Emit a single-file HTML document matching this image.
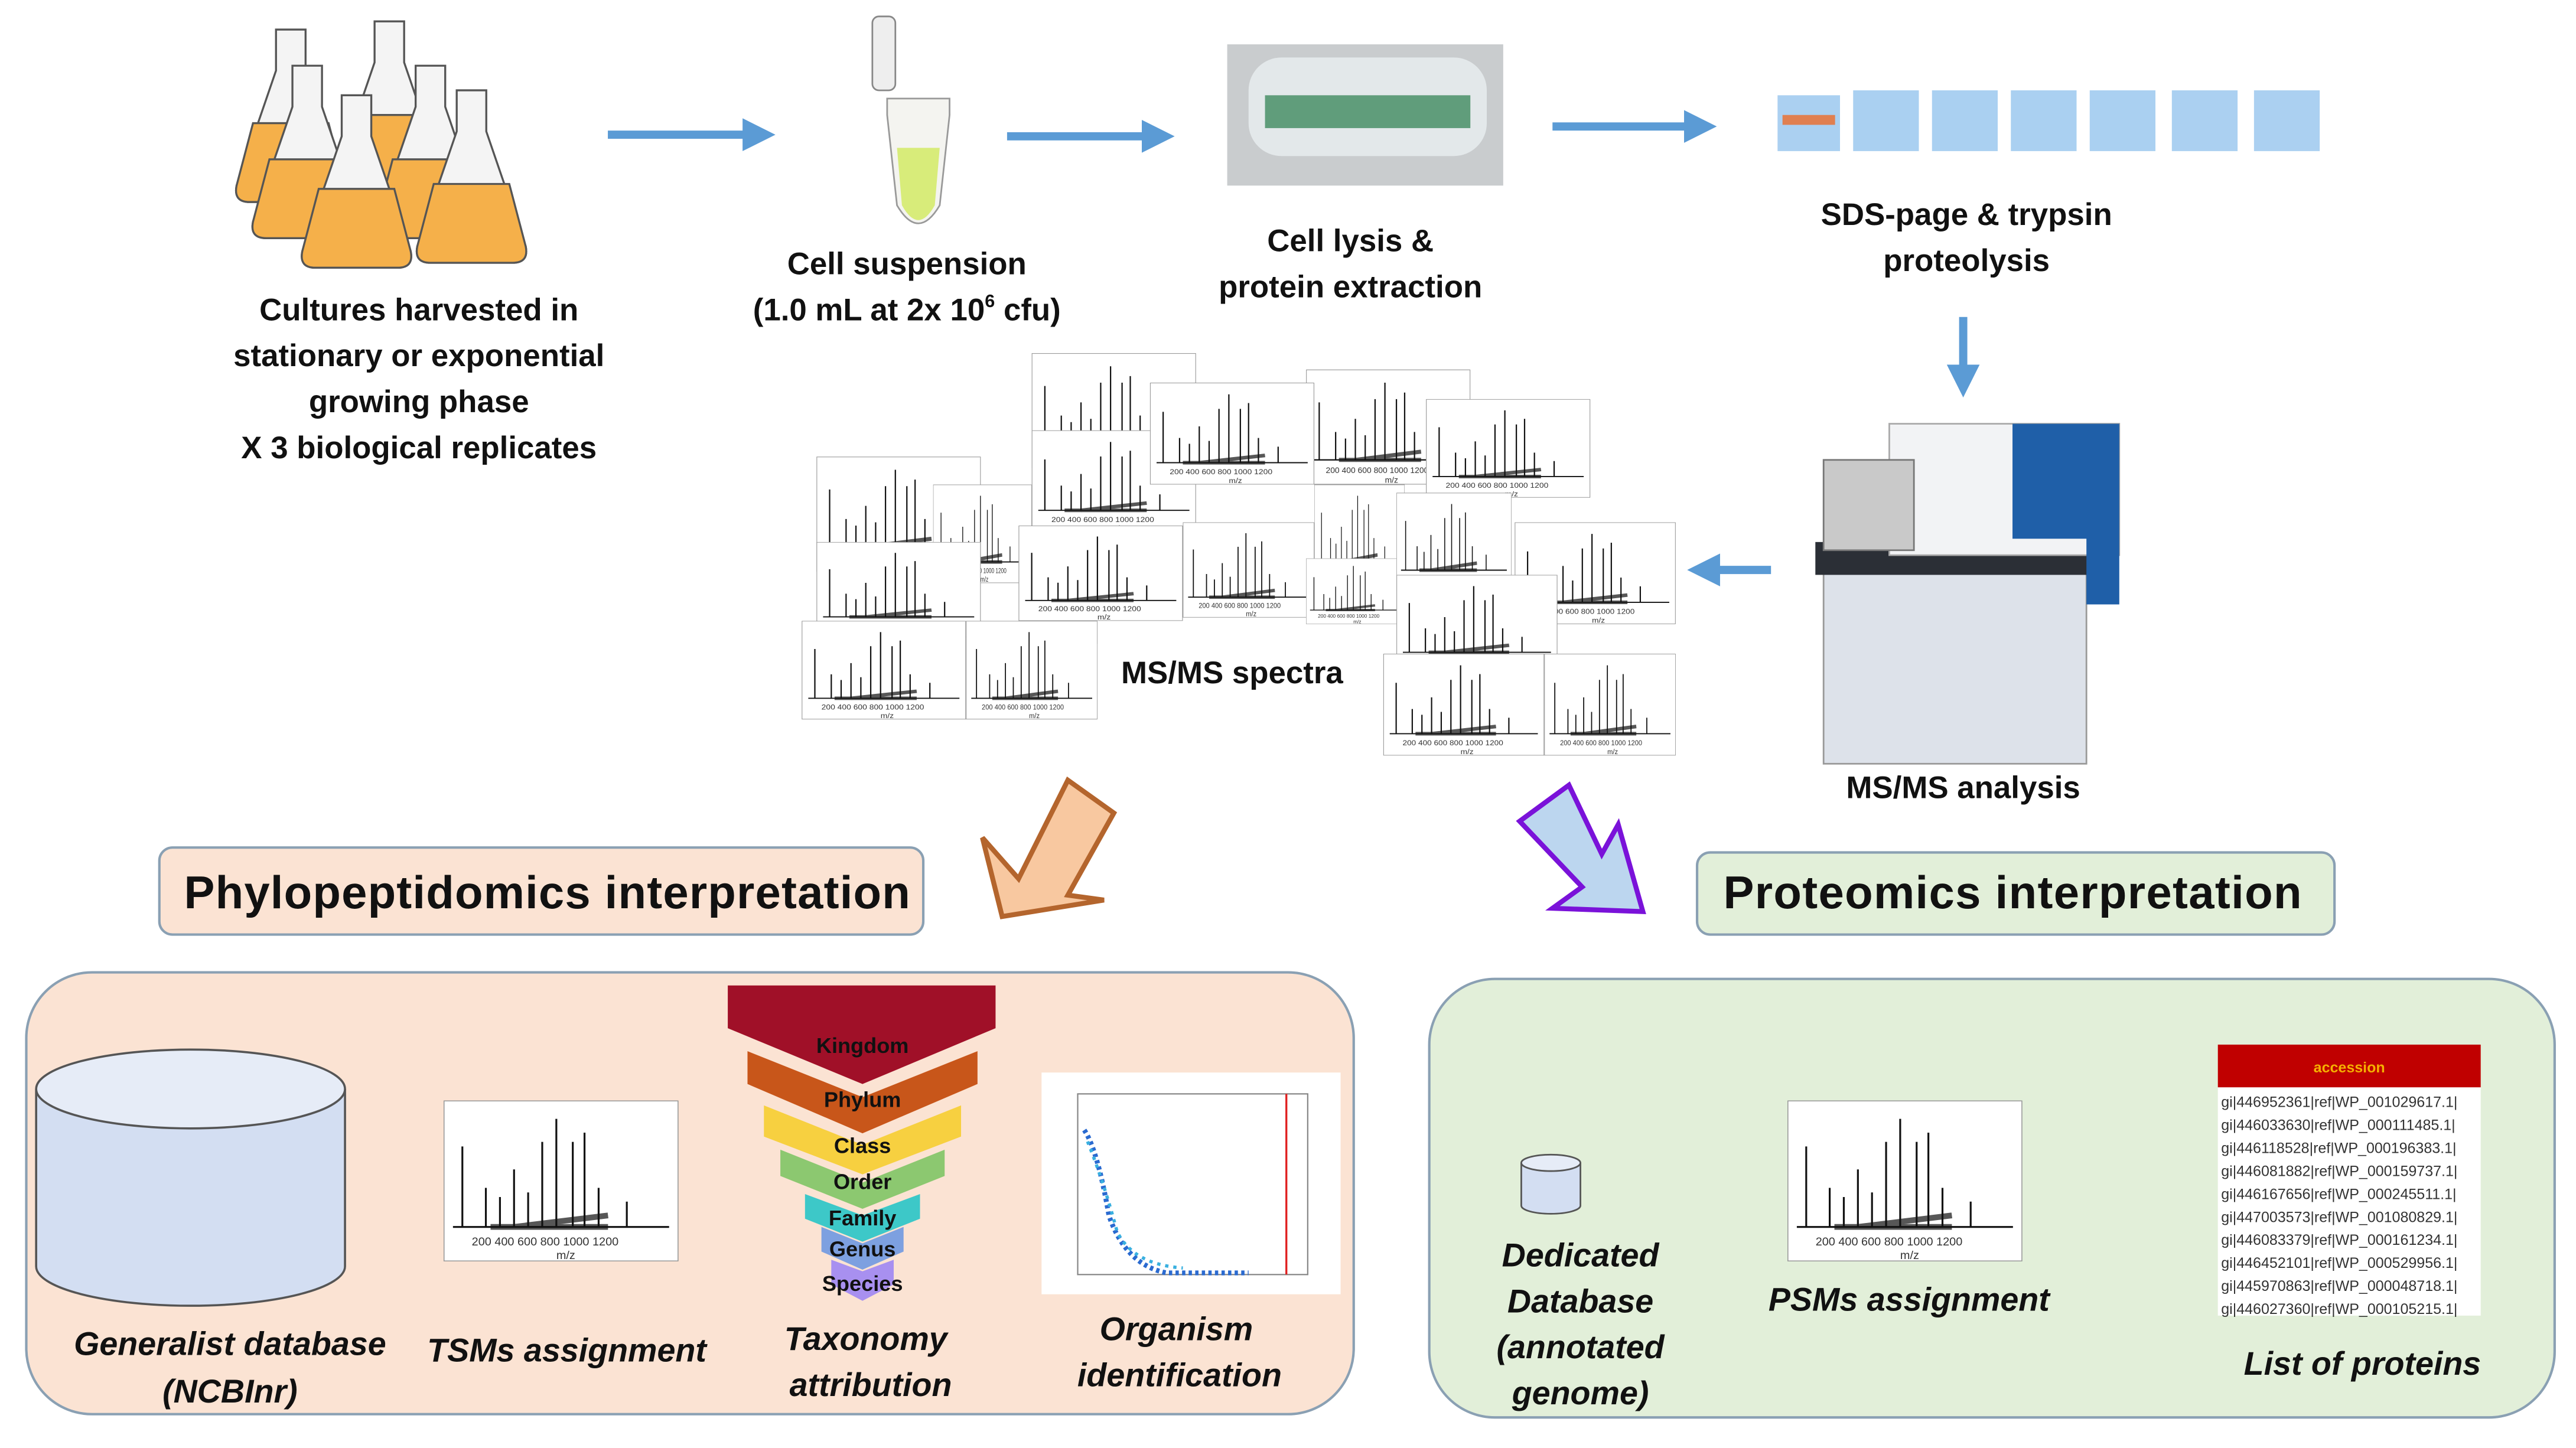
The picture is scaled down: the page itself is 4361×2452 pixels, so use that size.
<!DOCTYPE html>
<html><head><meta charset="utf-8"><style>
html,body{margin:0;padding:0;background:#fff;}
svg{display:block;}
text{font-family:"Liberation Sans",sans-serif;}
.b{font-weight:bold;font-size:19px;fill:#111;}
.i{font-weight:bold;font-style:italic;font-size:20px;fill:#111;}
</style></head><body>
<svg width="4361" height="2452" viewBox="0 0 1568 881.6" preserveAspectRatio="none" xmlns="http://www.w3.org/2000/svg">
<defs>
<marker id="ah" markerWidth="4" markerHeight="4" refX="2" refY="2" orient="auto" markerUnits="strokeWidth"><path d="M0,0 L4,2 L0,4 z" fill="#5b9bd5"/></marker>
<symbol id="sp" viewBox="0 0 100 70" preserveAspectRatio="none">
<rect x="0" y="0" width="100" height="70" fill="#fff" stroke="#999" stroke-width="0.8"/>
<g stroke="#111" stroke-width="0.8">
<line x1="8" y1="55" x2="8" y2="20"/><line x1="18" y1="55" x2="18" y2="38"/><line x1="24" y1="55" x2="24" y2="42"/><line x1="30" y1="55" x2="30" y2="30"/><line x1="36" y1="55" x2="36" y2="40"/><line x1="42" y1="55" x2="42" y2="18"/><line x1="48" y1="55" x2="48" y2="8"/><line x1="55" y1="55" x2="55" y2="18"/><line x1="60" y1="55" x2="60" y2="14"/><line x1="66" y1="55" x2="66" y2="38"/><line x1="78" y1="55" x2="78" y2="44"/>
<line x1="4" y1="55" x2="96" y2="55"/>
</g>
<g stroke="#111" stroke-width="2.5" opacity="0.7"><line x1="20" y1="55" x2="70" y2="55"/><line x1="30" y1="55" x2="70" y2="50"/></g>
<g fill="#333" font-size="5"><text x="12" y="63">200 400 600 800 1000 1200</text><text x="48" y="69">m/z</text></g>
</symbol>
</defs>

<!-- flasks -->
<g stroke="#555" stroke-width="1.2">
<g id="fl"><path d="M168,18 h18 v25 l24,70 q2,10 -8,10 h-50 q-10,0 -8,-10 l24,-70z" fill="#f4f4f4"/><path d="M154,75 h46 l10,38 q2,10 -8,10 h-50 q-10,0 -8,-10z" fill="#f5b04a"/></g>
<g transform="translate(60,-5)"><path d="M168,18 h18 v25 l24,70 q2,10 -8,10 h-50 q-10,0 -8,-10 l24,-70z" fill="#f4f4f4"/><path d="M154,75 h46 l10,38 q2,10 -8,10 h-50 q-10,0 -8,-10z" fill="#f5b04a"/></g>
<g transform="translate(10,22)"><path d="M168,18 h18 v25 l24,70 q2,10 -8,10 h-50 q-10,0 -8,-10 l24,-70z" fill="#f4f4f4"/><path d="M154,75 h46 l10,38 q2,10 -8,10 h-50 q-10,0 -8,-10z" fill="#f5b04a"/></g>
<g transform="translate(85,22)"><path d="M168,18 h18 v25 l24,70 q2,10 -8,10 h-50 q-10,0 -8,-10 l24,-70z" fill="#f4f4f4"/><path d="M154,75 h46 l10,38 q2,10 -8,10 h-50 q-10,0 -8,-10z" fill="#f5b04a"/></g>
<g transform="translate(40,40)"><path d="M168,18 h18 v25 l24,70 q2,10 -8,10 h-50 q-10,0 -8,-10 l24,-70z" fill="#f4f4f4"/><path d="M154,75 h46 l10,38 q2,10 -8,10 h-50 q-10,0 -8,-10z" fill="#f5b04a"/></g>
<g transform="translate(110,37)"><path d="M168,18 h18 v25 l24,70 q2,10 -8,10 h-50 q-10,0 -8,-10 l24,-70z" fill="#f4f4f4"/><path d="M154,75 h46 l10,38 q2,10 -8,10 h-50 q-10,0 -8,-10z" fill="#f5b04a"/></g>
</g>
<text class="b" text-anchor="middle"><tspan x="255" y="195">Cultures harvested in</tspan><tspan x="255" y="223">stationary or exponential</tspan><tspan x="255" y="251">growing phase</tspan><tspan x="255" y="279">X 3 biological replicates</tspan></text>

<!-- arrows top -->
<g stroke="#5b9bd5" stroke-width="5" fill="none" marker-end="url(#ah)">
<line x1="370" y1="82" x2="462" y2="82"/><line x1="613" y1="83" x2="705" y2="83"/><line x1="945" y1="77" x2="1035" y2="77"/>
<line x1="1195" y1="193" x2="1195" y2="232"/><line x1="1078" y1="347" x2="1037" y2="347"/>
<line x1="220" y1="725" x2="257" y2="725"/><line x1="420" y1="725" x2="458" y2="725"/><line x1="578" y1="727" x2="615" y2="727"/>
<line x1="987" y1="719" x2="1050" y2="719"/><line x1="1245" y1="719" x2="1310" y2="719"/>
</g>

<!-- tube -->
<rect x="531" y="10" width="14" height="45" rx="4" fill="#eee" stroke="#888"/>
<path d="M540,60 h38 v10 l-6,55 q-13,22 -26,0 l-6,-55z" fill="#f4f4f0" stroke="#999"/>
<path d="M546,90 h26 l-3,35 q-10,18 -20,0z" fill="#d8ec7a"/>
<text class="b" text-anchor="middle"><tspan x="552" y="167">Cell suspension</tspan><tspan x="552" y="195">(1.0 mL at 2x 10<tspan font-size="11" dy="-8">6</tspan><tspan dy="8">  cfu)</tspan></tspan></text>

<!-- plate -->
<rect x="747" y="27" width="168" height="86" fill="#c9ccce"/>
<rect x="760" y="35" width="145" height="60" rx="20" fill="#e3e8ea"/>
<rect x="770" y="58" width="125" height="20" fill="#3f8a5f" opacity="0.8"/>
<text class="b" text-anchor="middle"><tspan x="822" y="153">Cell lysis &amp;</tspan><tspan x="822" y="181">protein extraction</tspan></text>

<!-- gel -->
<g fill="#9cc8ef" opacity="0.85">
<rect x="1082" y="58" width="38" height="34"/><rect x="1128" y="55" width="40" height="37"/><rect x="1176" y="55" width="40" height="37"/><rect x="1224" y="55" width="40" height="37"/><rect x="1272" y="55" width="40" height="37"/><rect x="1322" y="55" width="40" height="37"/><rect x="1372" y="55" width="40" height="37"/>
</g>
<rect x="1085" y="70" width="32" height="6" fill="#e07f50"/>
<text class="b" text-anchor="middle"><tspan x="1197" y="137">SDS-page &amp; trypsin</tspan><tspan x="1197" y="165">proteolysis</tspan></text>

<!-- machine -->
<rect x="1110" y="345" width="160" height="120" fill="#dde2ea" stroke="#999"/>
<rect x="1105" y="330" width="175" height="20" fill="#2b2f36"/>
<rect x="1150" y="258" width="140" height="80" fill="#f2f3f5" stroke="#aaa"/>
<path d="M1225,258 h65 v110 h-20 v-40 h-45z" fill="#1f5fa8"/>
<rect x="1110" y="280" width="55" height="55" fill="#c9c9c9" stroke="#777"/>
<text class="b" x="1195" y="486" text-anchor="middle">MS/MS analysis</text>

<!-- spectra collage -->
<g>
<use href="#sp" x="628" y="215" width="100" height="70"/><use href="#sp" x="795" y="225" width="100" height="70"/>
<use href="#sp" x="497" y="278" width="100" height="70"/><use href="#sp" x="568" y="295" width="60" height="60"/>
<use href="#sp" x="628" y="262" width="100" height="62"/><use href="#sp" x="700" y="233" width="100" height="62"/>
<use href="#sp" x="868" y="243" width="100" height="60"/><use href="#sp" x="800" y="295" width="55" height="60"/>
<use href="#sp" x="620" y="320" width="100" height="58"/><use href="#sp" x="720" y="318" width="80" height="58"/>
<use href="#sp" x="497" y="330" width="100" height="58"/><use href="#sp" x="795" y="340" width="60" height="40"/>
<use href="#sp" x="850" y="300" width="70" height="60"/><use href="#sp" x="922" y="318" width="98" height="62"/>
<use href="#sp" x="850" y="350" width="98" height="60"/><use href="#sp" x="488" y="378" width="100" height="60"/>
<use href="#sp" x="588" y="378" width="80" height="60"/><use href="#sp" x="842" y="398" width="98" height="62"/>
<use href="#sp" x="940" y="398" width="80" height="62"/>
</g>
<rect x="668" y="392" width="170" height="34" fill="#fff"/>
<text class="b" x="750" y="416" text-anchor="middle">MS/MS spectra</text>

<!-- big arrows -->
<path d="M598,510 L620,535 L650,475 L678,495 L650,545 L672,548 L610,558z" fill="#f8c8a0" stroke="#b4652d" stroke-width="3"/>
<path d="M925,500 L955,478 L975,520 L985,502 L1000,555 L945,553 L963,540z" fill="#bcd6ef" stroke="#7a12d9" stroke-width="3"/>

<!-- headers -->
<rect x="97" y="516" width="465" height="53" rx="8" fill="#fbe3d3" stroke="#8aa0b3" stroke-width="1.5"/>
<text x="333" y="553" text-anchor="middle" font-weight="bold" font-size="28" fill="#111" textLength="442">Phylopeptidomics interpretation</text>
<rect x="1033" y="519" width="388" height="50" rx="8" fill="#e2efd9" stroke="#8aa0b3" stroke-width="1.5"/>
<text x="1225" y="553" text-anchor="middle" font-weight="bold" font-size="28" fill="#111" textLength="352">Proteomics interpretation</text>

<!-- panels -->
<rect x="16" y="592" width="808" height="269" rx="40" fill="#fbe3d3" stroke="#8aa0b3" stroke-width="1.5"/>
<rect x="870" y="596" width="685" height="267" rx="40" fill="#e2efd9" stroke="#8aa0b3" stroke-width="1.5"/>

<!-- cylinder -->
<path d="M22,663 v108 a94,24 0 0 0 188,0 v-108" fill="#d3def2" stroke="#555" stroke-width="1.3"/>
<ellipse cx="116" cy="663" rx="94" ry="24" fill="#e6ecf7" stroke="#555" stroke-width="1.3"/>
<text class="i" text-anchor="middle"><tspan x="140" y="825">Generalist database</tspan><tspan x="140" y="854">(NCBInr)</tspan></text>

<use href="#sp" x="270" y="670" width="143" height="98"/>
<text class="i" x="345" y="829" text-anchor="middle">TSMs assignment</text>

<!-- funnel -->
<path d="M443,600 H606 V626 L525,660 L443,626z" fill="#a01028"/>
<path d="M455,640 L525,668 L595,640 V660 L525,690 L455,660z" fill="#c8561a"/>
<path d="M465,673 L525,697 L585,673 V692 L525,715 L465,692z" fill="#f7d040"/>
<path d="M475,700 L525,720 L575,700 V716 L525,736 L475,716z" fill="#8cc870"/>
<path d="M490,727 L525,740 L560,727 V742 L525,756 L490,742z" fill="#3dc8c8"/>
<path d="M500,747 L525,757 L550,747 V762 L525,773 L500,762z" fill="#7da0e0"/>
<path d="M506,767 L525,774 L544,767 V782 L525,792 L506,782z" fill="#a890f0"/>
<g font-weight="bold" font-size="13" fill="#111" text-anchor="middle">
<text x="525" y="641">Kingdom</text><text x="525" y="674">Phylum</text><text x="525" y="702">Class</text><text x="525" y="724">Order</text><text x="525" y="746">Family</text><text x="525" y="765">Genus</text><text x="525" y="786">Species</text></g>
<text class="i" text-anchor="middle"><tspan x="527" y="822">Taxonomy</tspan><tspan x="530" y="850">attribution</tspan></text>

<!-- scatter -->
<rect x="634" y="653" width="182" height="135" fill="#fff"/>
<rect x="656" y="666" width="140" height="110" fill="none" stroke="#888" stroke-width="0.8"/>
<path d="M660,688 Q668,700 675,740 Q685,770 710,775 L760,775" fill="none" stroke="#2a6ad0" stroke-width="3" stroke-dasharray="2 2"/>
<path d="M662,695 Q672,720 680,750 Q690,770 720,772" fill="none" stroke="#39b0e0" stroke-width="2" stroke-dasharray="2 3"/>
<line x1="783" y1="666" x2="783" y2="776" stroke="#e02020" stroke-width="1.2"/>
<text class="i" text-anchor="middle"><tspan x="716" y="816">Organism</tspan><tspan x="718" y="844">identification</tspan></text>

<!-- small cylinder -->
<path d="M926,708 v26 a18,5 0 0 0 36,0 v-26" fill="#d3def2" stroke="#555"/>
<ellipse cx="944" cy="708" rx="18" ry="5" fill="#e6ecf7" stroke="#555"/>
<text class="i" text-anchor="middle"><tspan x="962" y="771">Dedicated</tspan><tspan x="962" y="799">Database</tspan><tspan x="962" y="827">(annotated</tspan><tspan x="962" y="855">genome)</tspan></text>

<use href="#sp" x="1088" y="670" width="143" height="98"/>
<text class="i" x="1162" y="798" text-anchor="middle">PSMs assignment</text>

<!-- table -->
<rect x="1350" y="636" width="160" height="165" fill="#fff"/>
<rect x="1350" y="636" width="160" height="26" fill="#c00000"/>
<text x="1430" y="653" text-anchor="middle" font-size="9" font-weight="bold" fill="#f5b000">accession</text>
<g font-size="9" fill="#333">
<text x="1352" y="674">gi|446952361|ref|WP_001029617.1|</text>
<text x="1352" y="688">gi|446033630|ref|WP_000111485.1|</text>
<text x="1352" y="702">gi|446118528|ref|WP_000196383.1|</text>
<text x="1352" y="716">gi|446081882|ref|WP_000159737.1|</text>
<text x="1352" y="730">gi|446167656|ref|WP_000245511.1|</text>
<text x="1352" y="744">gi|447003573|ref|WP_001080829.1|</text>
<text x="1352" y="758">gi|446083379|ref|WP_000161234.1|</text>
<text x="1352" y="772">gi|446452101|ref|WP_000529956.1|</text>
<text x="1352" y="786">gi|445970863|ref|WP_000048718.1|</text>
<text x="1352" y="800">gi|446027360|ref|WP_000105215.1|</text>
</g>
<text class="i" x="1438" y="837" text-anchor="middle">List of proteins</text>
</svg>
</body></html>
